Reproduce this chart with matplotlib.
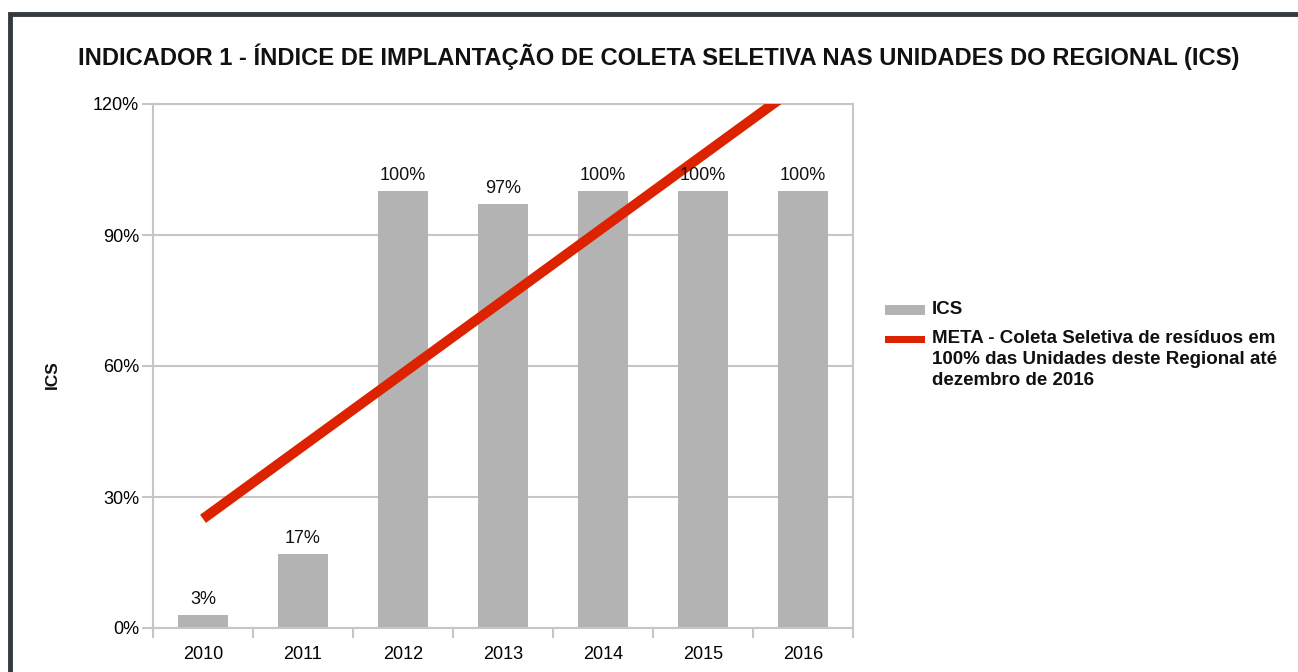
import matplotlib
matplotlib.use("Agg")
import matplotlib.pyplot as plt
from matplotlib.patches import Rectangle
from matplotlib.ticker import FuncFormatter, MultipleLocator

plt.rcParams['font.family'] = ['Liberation Sans', 'DejaVu Sans']

years = ["2010", "2011", "2012", "2013", "2014", "2015", "2016"]
ics = [3, 17, 100, 97, 100, 100, 100]
ics_labels = ["3%", "17%", "100%", "97%", "100%", "100%", "100%"]
meta = [25, 41.67, 58.33, 75, 91.67, 108.33, 125]

title = "INDICADOR 1 - ÍNDICE DE IMPLANTAÇÃO DE COLETA SELETIVA NAS UNIDADES DO REGIONAL (ICS)"
ics_name = "ICS"
meta_label = "META - Coleta Seletiva de resíduos em\n100% das Unidades deste Regional até\ndezembro de 2016"

W, H = 1298, 672
fig = plt.figure(figsize=(W / 100, H / 100), dpi=100)

# outer frame
fig.patches.append(Rectangle((10 / W, -0.1), 1.2, 1 - 14 / H + 0.1, transform=fig.transFigure,
                             fill=False, edgecolor="#333a40", linewidth=3.5, zorder=0))

ax = fig.add_axes([153 / W, 1 - 628 / H, 700 / W, 524 / H])
x = list(range(len(years)))
grey = "#b3b3b3"
frame = "#c6c6c6"
red = "#dd2200"

ax.bar(x, ics, width=0.5, color=grey, zorder=2)
for xi, v, lab in zip(x, ics, ics_labels):
    ax.text(xi, v + 1.6, lab, ha="center", va="bottom", fontsize=13, color="#111111", zorder=4)

ax.plot(x, meta, color=red, linewidth=7.2, solid_capstyle="butt", zorder=3, clip_on=True)

ax.set_xlim(-0.5, len(years) - 0.5)
ax.set_ylim(0, 120)
ax.yaxis.set_major_locator(MultipleLocator(30))
ax.yaxis.set_major_formatter(FuncFormatter(lambda v, p: f"{int(v)}%"))
ax.grid(axis="y", color=frame, linewidth=1.5, zorder=0)
ax.set_axisbelow(True)

ax.set_xticks(x)
ax.set_xticklabels(years)
ax.set_xticks([i - 0.5 for i in range(len(years) + 1)], minor=True)
ax.tick_params(axis="x", which="major", length=0, pad=13, labelsize=13)
ax.tick_params(axis="x", which="minor", length=7, width=1.5, color=frame)
ax.tick_params(axis="y", length=8, width=1.5, color=frame, pad=2, labelsize=13)

for s in ["left", "right", "bottom", "top"]:
    ax.spines[s].set_color(frame)
    ax.spines[s].set_linewidth(1.5)

fig.text(52 / W, 1 - 375 / H, "ICS", rotation=90, ha="center", va="center",
         fontsize=12.5, fontweight="bold", color="#111111")

fig.text(659 / W, 1 - 57 / H, title, ha="center", va="center", fontsize=17.1,
         fontweight="bold", color="#111111")

# legend (drawn manually to match layout)
fig.patches.append(Rectangle((885 / W, 1 - 315 / H), 40 / W, 10 / H, transform=fig.transFigure,
                             facecolor=grey, edgecolor="none"))
fig.patches.append(Rectangle((885 / W, 1 - 343 / H), 40 / W, 7 / H, transform=fig.transFigure,
                             facecolor=red, edgecolor="none"))
fig.text(932 / W, 1 - 310 / H, ics_name, ha="left", va="center", fontsize=13.5,
         fontweight="bold", color="#111111")
fig.text(932 / W, 1 - 330 / H, meta_label, ha="left", va="top", fontsize=13.5,
         fontweight="bold", color="#111111", linespacing=1.32)

fig.savefig("out.png", dpi=100)
